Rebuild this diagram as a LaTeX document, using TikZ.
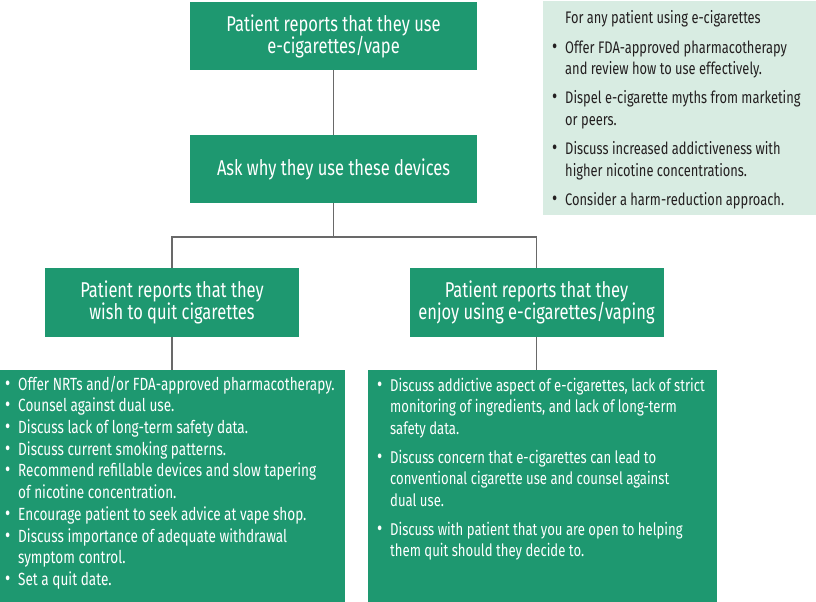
\documentclass[tikz,border=0pt]{standalone}
\usepackage{fontspec}
\setmainfont{Fira Sans}[FakeStretch=0.77]
\definecolor{dg}{RGB}{30,152,112}
\definecolor{lg}{RGB}{216,236,226}
\definecolor{ln}{RGB}{105,105,105}
\definecolor{tx}{RGB}{35,31,32}
\newcommand{\bi}{\par\hangindent=13bp\hangafter=1\noindent\makebox[13bp][l]{\hspace{0bp}{\fontsize{21}{13}\selectfont\textbullet}}}
\newcommand{\bii}{\par\vspace{7.3bp}\bi}
\newcommand{\nl}{\hfil\break}
\begin{document}
\begin{tikzpicture}[x=1bp,y=-1bp,
  box/.style={fill=dg, text=white, inner sep=0, align=center, font=\fontsize{21.5}{22}\selectfont},
  panel/.style={fill=dg, inner sep=0},
  side/.style={fill=lg, inner sep=0},
  conn/.style={draw=ln, line width=1.3bp},
  lst/.style={anchor=base west, inner sep=0}]
\useasboundingbox (0,0) rectangle (816,602);
\node[side, minimum width=273bp, minimum height=214bp] (sidebox) at (679.5,108) {};
\node[box, minimum width=287bp, minimum height=68bp] (top) at (333.5,36) {Patient reports that they use\\e-cigarettes/vape};
\node[box, minimum width=287bp, minimum height=68bp] (ask) at (333.5,169) {Ask why they use these devices};
\node[box, minimum width=254bp, minimum height=69bp] (lmid) at (172,302.5) {Patient reports that they\\wish to quit cigarettes};
\node[box, minimum width=254bp, minimum height=69bp] (rmid) at (536.5,302.5) {Patient reports that they\\enjoy using e-cigarettes/vaping};
\node[panel, minimum width=345bp, minimum height=232bp] (lbot) at (172.5,486) {};
\node[panel, minimum width=349bp, minimum height=232bp] (rbot) at (542.5,486) {};
\coordinate (bus) at (333.5,237);
\draw[conn] (top.south) -- (ask.north);
\draw[conn] (ask.south) -- (bus);
\draw[conn] (lmid.north) |- (bus) -| (rmid.north);
\draw[conn] (lmid.south) -- (lmid.south |- lbot.north);
\draw[conn] (rmid.south) -- (rmid.south |- rbot.north);
\node[lst, text=white] (llist) at (5,390) {\parbox[t]{338bp}{\fontsize{17.7}{21.8}\selectfont\raggedright
\bi Offer NRTs and/or FDA-approved pharmacotherapy.
\bi Counsel against dual use.
\bi Discuss lack of long-term safety data.
\bi Discuss current smoking patterns.
\bi Recommend refillable devices and slow tapering\nl of nicotine concentration.
\bi Encourage patient to seek advice at vape shop.
\bi Discuss importance of adequate withdrawal\nl symptom control.
\bi Set a quit date.}};
\node[lst, text=white] (rlist) at (377,391) {\parbox[t]{338bp}{\fontsize{17.1}{21.7}\selectfont\raggedright
\bi Discuss addictive aspect of e-cigarettes, lack of strict\nl monitoring of ingredients, and lack of long-term\nl safety data.
\bii Discuss concern that e-cigarettes can lead to\nl conventional cigarette use and counsel against\nl dual use.
\bii Discuss with patient that you are open to helping\nl them quit should they decide to.}};
\node[lst, text=tx] (slist) at (552,24) {\parbox[t]{262bp}{\fontsize{16.8}{21.8}\selectfont\raggedright
\hspace*{13bp}For any patient using e-cigarettes
\bii Offer FDA-approved pharmacotherapy\nl and review how to use effectively.
\bii Dispel e-cigarette myths from marketing\nl or peers.
\bii Discuss increased addictiveness with\nl higher nicotine concentrations.
\bii Consider a harm-reduction approach.}};
\end{tikzpicture}
\end{document}
